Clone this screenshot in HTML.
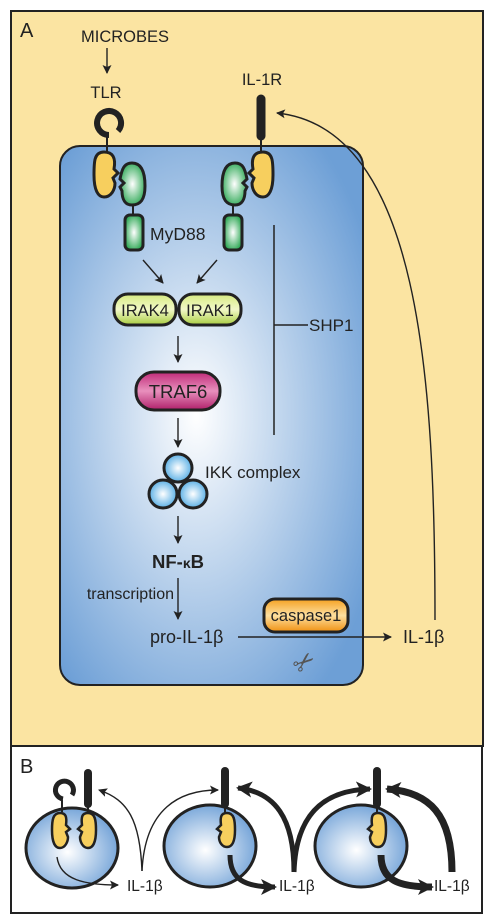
<!DOCTYPE html>
<html><head><meta charset="utf-8"><style>
body{margin:0;background:#fff;width:496px;height:924px;overflow:hidden}
svg{display:block;font-family:"Liberation Sans",sans-serif}
</style></head><body>
<svg width="496" height="924" viewBox="0 0 496 924">
<defs>
<radialGradient id="cellg" cx="0.45" cy="0.5" r="0.65"><stop offset="0" stop-color="#ffffff"/><stop offset="1" stop-color="#6d9fd6"/></radialGradient>
<radialGradient id="smallg" cx="0.45" cy="0.55" r="0.6"><stop offset="0" stop-color="#ffffff"/><stop offset="1" stop-color="#6d9fd6"/></radialGradient>
<radialGradient id="greeng" cx="0.5" cy="0.5" r="0.6"><stop offset="0" stop-color="#ffffff"/><stop offset="1" stop-color="#1aa045"/></radialGradient>
<radialGradient id="ballg" cx="0.5" cy="0.5" r="0.6"><stop offset="0" stop-color="#ffffff"/><stop offset="1" stop-color="#3aa0e0"/></radialGradient>
<linearGradient id="limeg" x1="0" y1="0" x2="0" y2="1"><stop offset="0" stop-color="#d6ea80"/><stop offset="0.5" stop-color="#f2f8c8"/><stop offset="1" stop-color="#a8cc40"/></linearGradient>
<linearGradient id="trafg" x1="0" y1="0" x2="0" y2="1"><stop offset="0" stop-color="#c02a78"/><stop offset="0.5" stop-color="#e890bd"/><stop offset="1" stop-color="#b01f6a"/></linearGradient>
<linearGradient id="caspg" x1="0" y1="0" x2="0" y2="1"><stop offset="0" stop-color="#f5a020"/><stop offset="0.5" stop-color="#fde0a0"/><stop offset="1" stop-color="#f09010"/></linearGradient>
<marker id="ah" markerWidth="9" markerHeight="9" refX="8" refY="4.5" orient="auto" markerUnits="userSpaceOnUse"><path d="M0,0 L9,4.5 L0,9 L2,4.5 Z" fill="#222"/></marker>
<marker id="ahb" markerWidth="16" markerHeight="16" refX="14" refY="8" orient="auto" markerUnits="userSpaceOnUse"><path d="M0,0 L16,8 L0,16 L4,8 Z" fill="#222"/></marker>
</defs>

<!-- Panel A -->
<rect x="11" y="11" width="472" height="735" fill="#fbe4a2" stroke="#222" stroke-width="2"/>
<text x="20" y="37" font-size="20" fill="#222">A</text>
<rect x="60" y="146" width="303" height="539" rx="20" fill="url(#cellg)" stroke="#222" stroke-width="2"/>

<text x="125" y="42" font-size="16.5" text-anchor="middle" fill="#222">MICROBES</text>
<line x1="107" y1="48" x2="107" y2="73" stroke="#222" stroke-width="1.4" marker-end="url(#ah)"/>
<text x="106" y="98" font-size="16.5" text-anchor="middle" fill="#222">TLR</text>
<path d="M109,135 A12,12 0 1 1 118,131" fill="none" stroke="#222" stroke-width="6"/>
<line x1="107" y1="135" x2="107" y2="152" stroke="#222" stroke-width="2"/>
<text x="262" y="85" font-size="16.5" text-anchor="middle" fill="#222">IL-1R</text>
<line x1="261" y1="99" x2="261" y2="136" stroke="#222" stroke-width="9" stroke-linecap="round"/>
<line x1="261" y1="136" x2="261" y2="152" stroke="#222" stroke-width="2"/>

<path d="M104,152 C94,152 94,162 94,175 C94,190 98,197 104,197 C111,197 115,190 115,183 L113,178 L118,173 L114,169 C116,158 113,152 104,152Z" fill="#f7cf5e" stroke="#222" stroke-width="3"/>
<path d="M263,152 C273,152 273,162 273,175 C273,190 269,197 263,197 C256,197 252,190 252,183 L254,178 L249,173 L253,169 C251,158 254,152 263,152Z" fill="#f7cf5e" stroke="#222" stroke-width="3"/>
<path d="M132,163 C142,163 145,173 145,186 C145,199 141,205 132,205 C125,205 122,199 122,191 L120,187 L124,183 L120,179 C122,169 124,163 132,163Z" fill="url(#greeng)" stroke="#222" stroke-width="3"/>
<path d="M235,163 C225,163 222,173 222,186 C222,199 226,205 235,205 C242,205 245,199 245,191 L247,187 L243,183 L247,179 C245,169 243,163 235,163Z" fill="url(#greeng)" stroke="#222" stroke-width="3"/>
<line x1="133" y1="205" x2="133" y2="215" stroke="#222" stroke-width="2"/>
<line x1="233" y1="205" x2="233" y2="215" stroke="#222" stroke-width="2"/>
<rect x="125" y="215" width="18" height="35" rx="5" fill="url(#greeng)" stroke="#222" stroke-width="3"/>
<rect x="224" y="215" width="18" height="35" rx="5" fill="url(#greeng)" stroke="#222" stroke-width="3"/>
<text x="150" y="240" font-size="17.5" fill="#222">MyD88</text>
<line x1="143" y1="260" x2="163" y2="283" stroke="#222" stroke-width="1.4" marker-end="url(#ah)"/>
<line x1="217" y1="260" x2="197" y2="283" stroke="#222" stroke-width="1.4" marker-end="url(#ah)"/>

<rect x="114" y="294" width="62" height="31" rx="14" fill="url(#limeg)" stroke="#222" stroke-width="3"/>
<rect x="179" y="294" width="62" height="31" rx="14" fill="url(#limeg)" stroke="#222" stroke-width="3"/>
<text x="145" y="316" font-size="16.5" text-anchor="middle" fill="#222">IRAK4</text>
<text x="210" y="316" font-size="16.5" text-anchor="middle" fill="#222">IRAK1</text>
<line x1="178" y1="336" x2="178" y2="362" stroke="#222" stroke-width="1.4" marker-end="url(#ah)"/>
<rect x="136" y="372" width="84" height="38" rx="18" fill="url(#trafg)" stroke="#222" stroke-width="3"/>
<text x="178" y="398" font-size="18.5" text-anchor="middle" fill="#222">TRAF6</text>
<line x1="178" y1="418" x2="178" y2="447" stroke="#222" stroke-width="1.4" marker-end="url(#ah)"/>

<g stroke="#222" stroke-width="3" fill="url(#ballg)">
<circle cx="178" cy="468" r="14"/><circle cx="163" cy="494" r="14"/><circle cx="193" cy="494" r="14"/>
</g>
<text x="205" y="478" font-size="17" fill="#222">IKK complex</text>
<line x1="178" y1="516" x2="178" y2="543" stroke="#222" stroke-width="1.4" marker-end="url(#ah)"/>
<text x="178" y="568" font-size="18.5" font-weight="bold" text-anchor="middle" fill="#222">NF-<tspan font-size="14">κ</tspan>B</text>
<line x1="178" y1="578" x2="178" y2="619" stroke="#222" stroke-width="1.4" marker-end="url(#ah)"/>
<text x="174" y="599" font-size="16" text-anchor="end" fill="#222">transcription</text>
<text x="150" y="643" font-size="18" fill="#222">pro-IL-1β</text>
<line x1="238" y1="637" x2="391" y2="637" stroke="#222" stroke-width="1.4" marker-end="url(#ah)"/>
<rect x="264" y="599" width="84" height="33" rx="11" fill="url(#caspg)" stroke="#222" stroke-width="3"/>
<text x="306" y="621" font-size="16.5" text-anchor="middle" fill="#222">caspase1</text>
<text x="292" y="670" font-size="26" fill="#555" transform="rotate(-40 305 660)">✂</text>
<text x="403" y="643" font-size="18" fill="#222">IL-1β</text>
<path d="M435,620 C435,380 420,128 277,113" fill="none" stroke="#222" stroke-width="1.4" marker-end="url(#ah)"/>

<line x1="274" y1="225" x2="274" y2="435" stroke="#222" stroke-width="1.5"/>
<line x1="274" y1="325" x2="308" y2="325" stroke="#222" stroke-width="1.5"/>
<text x="309" y="331" font-size="17" fill="#222">SHP1</text>

<!-- Panel B -->
<rect x="11" y="746" width="471" height="167" fill="#fff" stroke="#222" stroke-width="2"/>
<text x="20" y="773" font-size="20" fill="#222">B</text>

<g>
<ellipse cx="72" cy="848" rx="46" ry="40" fill="url(#smallg)" stroke="#222" stroke-width="3"/>
<path d="M63,799 A9,9 0 1 1 72,795" fill="none" stroke="#222" stroke-width="5"/>
<line x1="62" y1="800" x2="62" y2="812" stroke="#222" stroke-width="2"/>
<line x1="88" y1="773" x2="88" y2="804" stroke="#222" stroke-width="8" stroke-linecap="round"/>
<line x1="88" y1="804" x2="88" y2="812" stroke="#222" stroke-width="2"/>
<path d="M60,813 C53,813 52,820 52,830 C52,842 55,848 60,848 C65,848 68,842 68,837 L66,832 L70,829 L66,825 C67,817 66,813 60,813Z" fill="#f7cf5e" stroke="#222" stroke-width="2.5"/>
<path d="M88,813 C95,813 96,820 96,830 C96,842 93,848 88,848 C83,848 80,842 80,837 L82,832 L78,829 L82,825 C81,817 82,813 88,813Z" fill="#f7cf5e" stroke="#222" stroke-width="2.5"/>
<path d="M57,857 C60,880 85,885 118,885" fill="none" stroke="#222" stroke-width="1.4" marker-end="url(#ah)"/>
</g>
<text x="127" y="891" font-size="15.5" fill="#222">IL-1β</text>
<path d="M142,871 C140,820 128,800 99,790" fill="none" stroke="#222" stroke-width="1.4" marker-end="url(#ah)"/>
<path d="M142,871 C145,808 180,790 218,790" fill="none" stroke="#222" stroke-width="1.4" marker-end="url(#ah)"/>

<g>
<ellipse cx="210" cy="846" rx="46" ry="41" fill="url(#smallg)" stroke="#222" stroke-width="3"/>
<line x1="225" y1="771" x2="225" y2="804" stroke="#222" stroke-width="8" stroke-linecap="round"/>
<line x1="225" y1="804" x2="225" y2="813" stroke="#222" stroke-width="2"/>
<path d="M227,813 C234,813 235,820 235,830 C235,842 232,847 227,847 C222,847 219,842 219,837 L221,832 L217,829 L221,825 C220,817 221,813 227,813Z" fill="#f7cf5e" stroke="#222" stroke-width="2.5"/>
<path d="M230,855 C230,880 245,887 275,887" fill="none" stroke="#222" stroke-width="5" marker-end="url(#ahb)"/>
</g>
<text x="279" y="891" font-size="15.5" fill="#222">IL-1β</text>
<path d="M294,872 C294,818 275,792 238,788" fill="none" stroke="#222" stroke-width="5" marker-end="url(#ahb)"/>
<path d="M294,872 C296,808 330,790 370,789" fill="none" stroke="#222" stroke-width="5" marker-end="url(#ahb)"/>

<g>
<ellipse cx="361" cy="846" rx="46" ry="41" fill="url(#smallg)" stroke="#222" stroke-width="3"/>
<line x1="377" y1="771" x2="377" y2="804" stroke="#222" stroke-width="8" stroke-linecap="round"/>
<line x1="377" y1="804" x2="377" y2="813" stroke="#222" stroke-width="2"/>
<path d="M378,813 C385,813 386,820 386,830 C386,842 383,847 378,847 C373,847 370,842 370,837 L372,832 L368,829 L372,825 C371,817 372,813 378,813Z" fill="#f7cf5e" stroke="#222" stroke-width="2.5"/>
<path d="M381,855 C381,880 398,887 432,887" fill="none" stroke="#222" stroke-width="7" marker-end="url(#ahb)"/>
</g>
<text x="434" y="891" font-size="15.5" fill="#222">IL-1β</text>
<path d="M452,872 C452,815 430,792 387,789" fill="none" stroke="#222" stroke-width="7" marker-end="url(#ahb)"/>
</svg>
</body></html>
